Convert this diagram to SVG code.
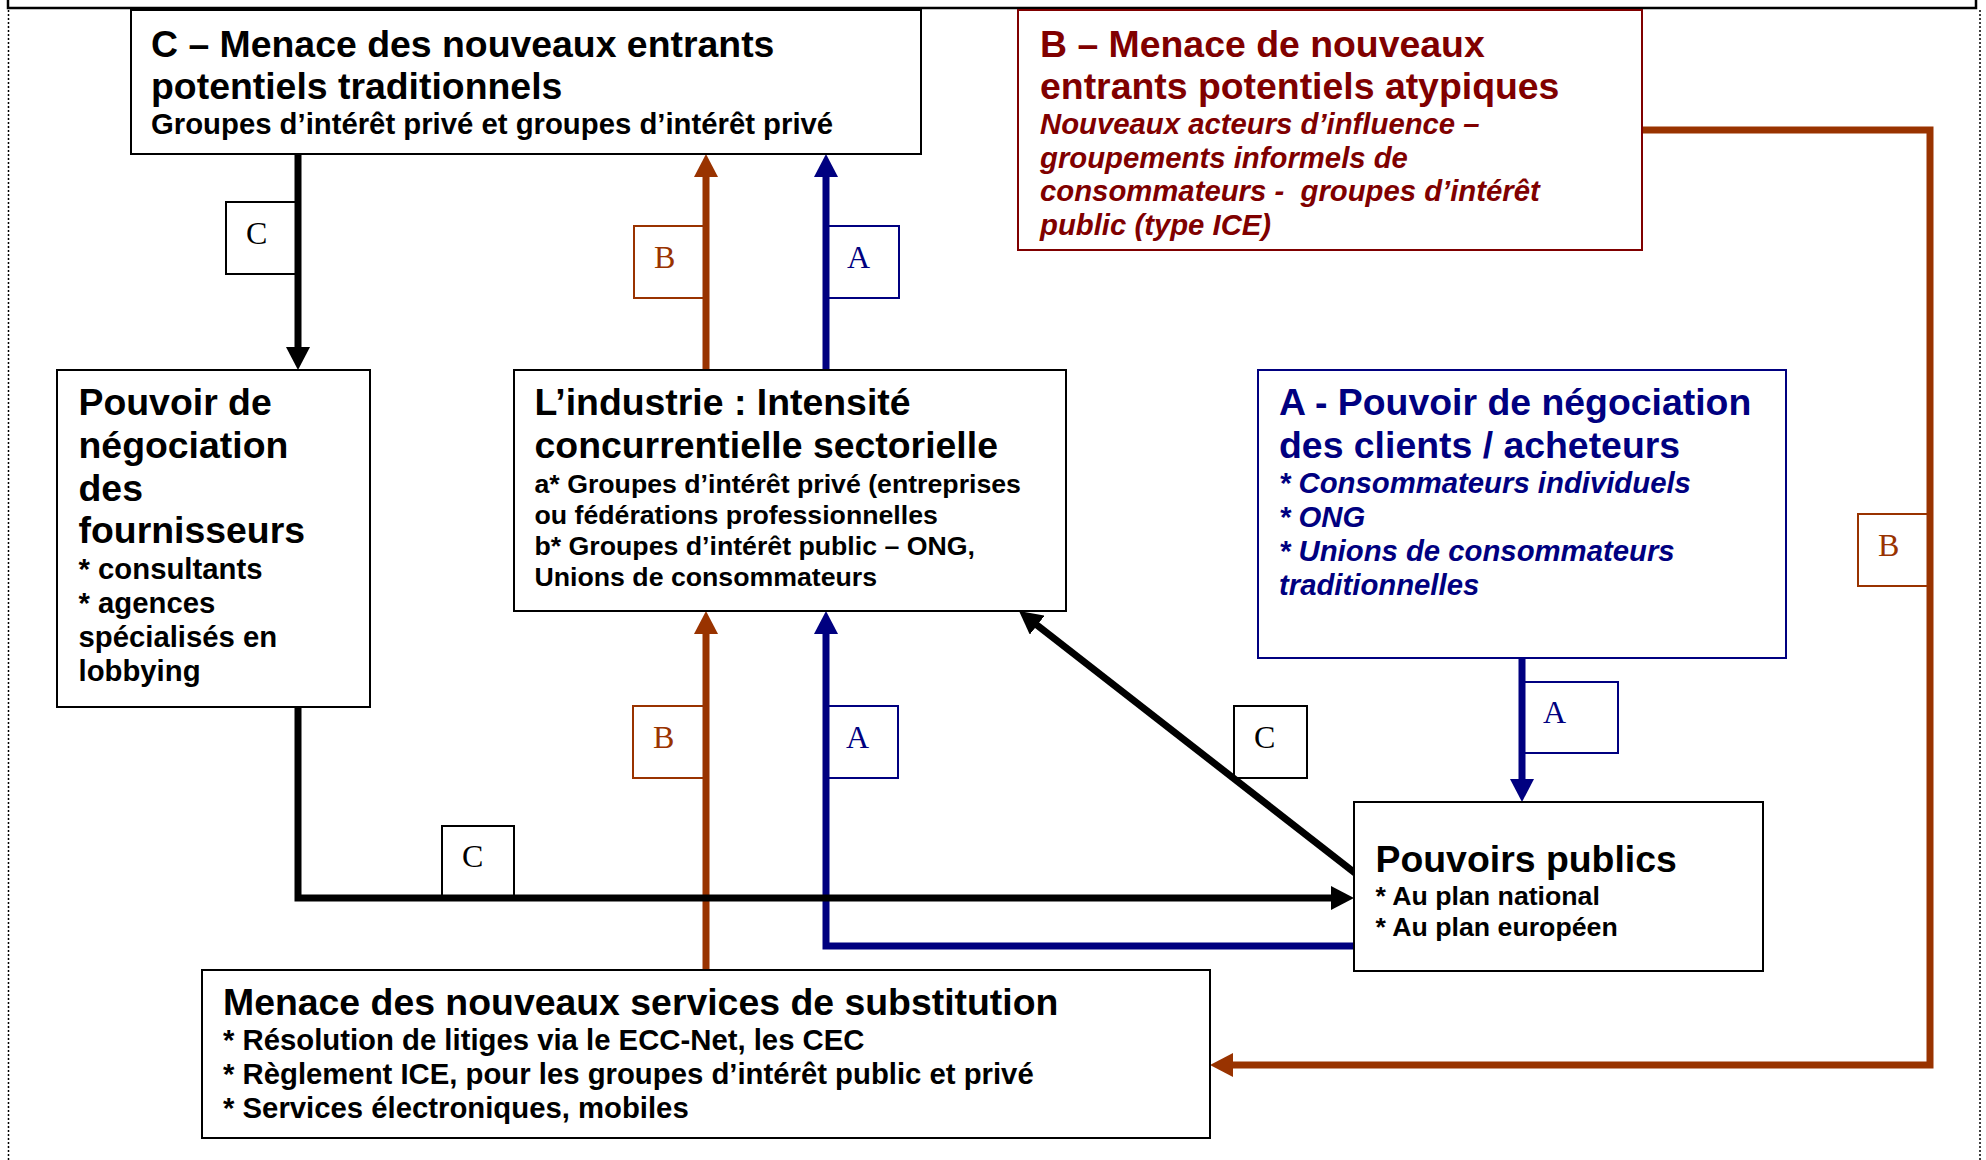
<svg xmlns="http://www.w3.org/2000/svg" width="1986" height="1160" viewBox="0 0 1986 1160">
<defs>
<style>
text{font-family:"Liberation Sans",Arial,Helvetica,sans-serif;font-weight:bold;white-space:pre}
.t{font-size:37.4px}
.s{font-size:29.3px}
.s2{font-size:26.7px}
.i{font-style:italic}
.box{fill:#fff;stroke:#000;stroke-width:2}
.lbl{fill:#fff;stroke-width:2}
.lt{font-family:"Liberation Serif","Times New Roman",serif;font-weight:normal;font-size:32px}
.k{stroke:#000}
.br{stroke:#993300}
.nv{stroke:#000080}
.con{fill:none;stroke-width:7;stroke-linejoin:miter}
</style>
<marker id="ak" markerUnits="userSpaceOnUse" markerWidth="24" markerHeight="24" viewBox="0 0 24 24" refX="11" refY="12" orient="auto"><path d="M0,0 L23,12 L0,24 z" fill="#000"/></marker>
<marker id="ab" markerUnits="userSpaceOnUse" markerWidth="24" markerHeight="24" viewBox="0 0 24 24" refX="11" refY="12" orient="auto"><path d="M0,0 L23,12 L0,24 z" fill="#993300"/></marker>
<marker id="an" markerUnits="userSpaceOnUse" markerWidth="24" markerHeight="24" viewBox="0 0 24 24" refX="11" refY="12" orient="auto"><path d="M0,0 L23,12 L0,24 z" fill="#000080"/></marker>
</defs>
<rect width="1986" height="1160" fill="#fff"/>
<g id="frame" fill="none">
<path d="M8,0 V8 H1976 V0" stroke="#000" stroke-width="2.5"/>
<path d="M8.5,10 V1160" stroke="#000" stroke-width="1.5" stroke-dasharray="2,2"/>
<path d="M1980,10 V1160" stroke="#000" stroke-width="1.5" stroke-dasharray="2,2"/>
</g>

<g id="labels">
<g id="lbl-c1"><rect class="lbl" x="226" y="202" width="70" height="72" stroke="#000"/><text class="lt" x="246" y="244" fill="#000">C</text></g>
<g id="lbl-b1"><rect class="lbl" x="634" y="226" width="71" height="72" stroke="#993300"/><text class="lt" x="654" y="268" fill="#993300">B</text></g>
<g id="lbl-a1"><rect class="lbl" x="827" y="226" width="72" height="72" stroke="#000080"/><text class="lt" x="847" y="268" fill="#000080">A</text></g>
<g id="lbl-b2"><rect class="lbl" x="633" y="706" width="72" height="72" stroke="#993300"/><text class="lt" x="653" y="748" fill="#993300">B</text></g>
<g id="lbl-a2"><rect class="lbl" x="827" y="706" width="71" height="72" stroke="#000080"/><text class="lt" x="846" y="748" fill="#000080">A</text></g>
<g id="lbl-c3"><rect class="lbl" x="1234" y="706" width="73" height="72" stroke="#000"/><text class="lt" x="1254" y="748" fill="#000">C</text></g>
<g id="lbl-a3"><rect class="lbl" x="1523" y="682" width="95" height="71" stroke="#000080"/><text class="lt" x="1543" y="723" fill="#000080">A</text></g>
<g id="lbl-b3"><rect class="lbl" x="1858" y="514" width="71" height="72" stroke="#993300"/><text class="lt" x="1878" y="556" fill="#993300">B</text></g>
<g id="lbl-c2"><rect class="lbl" x="442" y="826" width="72" height="71" stroke="#000"/><text class="lt" x="462" y="867" fill="#000">C</text></g>
</g>

<g id="connectors">
<path class="con k" d="M298,155 V358" marker-end="url(#ak)"/>
<path class="con br" d="M706,370 V166" marker-end="url(#ab)"/>
<path class="con nv" d="M826,370 V166" marker-end="url(#an)"/>
<path class="con br" d="M706,970 V623" marker-end="url(#ab)"/>
<path class="con nv" d="M1354,946 H826 V623" marker-end="url(#an)"/>
<path class="con k" d="M298,707 V898 H1342" marker-end="url(#ak)"/>
<path class="con k" d="M1355,873 L1028.5,618.4" stroke-width="7.5" marker-end="url(#ak)"/>
<path class="con nv" d="M1522,658 V790" marker-end="url(#an)"/>
<path class="con br" d="M1642,130 H1930 V1065 H1222" marker-end="url(#ab)"/>
</g>

<g id="node-c">
<rect class="box" x="131" y="10" width="790" height="144"/>
<text class="t" x="151" y="57">C – Menace des nouveaux entrants</text>
<text class="t" x="151" y="99">potentiels traditionnels</text>
<text class="s" x="151" y="134">Groupes d’intérêt privé et groupes d’intérêt privé</text>
</g>

<g id="node-b" fill="#800000">
<rect x="1018" y="10" width="624" height="240" fill="#fff" stroke="#800000" stroke-width="2"/>
<text class="t" x="1040" y="57">B – Menace de nouveaux</text>
<text class="t" x="1040" y="99">entrants potentiels atypiques</text>
<text class="s i" x="1040" y="134">Nouveaux acteurs d’influence –</text>
<text class="s i" x="1040" y="168">groupements informels de</text>
<text class="s i" x="1040" y="201">consommateurs -  groupes d’intérêt</text>
<text class="s i" x="1040" y="235">public (type ICE)</text>
</g>

<g id="node-fournisseurs">
<rect class="box" x="57" y="370" width="313" height="337"/>
<text class="t" x="78.5" y="415">Pouvoir de</text>
<text class="t" x="78.5" y="458">négociation</text>
<text class="t" x="78.5" y="501">des</text>
<text class="t" x="78.5" y="543">fournisseurs</text>
<text class="s" x="78.5" y="579">* consultants</text>
<text class="s" x="78.5" y="613">* agences</text>
<text class="s" x="78.5" y="647">spécialisés en</text>
<text class="s" x="78.5" y="681">lobbying</text>
</g>

<g id="node-industrie">
<rect class="box" x="514" y="370" width="552" height="241"/>
<text class="t" x="534.5" y="415">L’industrie : Intensité</text>
<text class="t" x="534.5" y="458">concurrentielle sectorielle</text>
<text class="s2" x="534.5" y="493">a* Groupes d’intérêt privé (entreprises</text>
<text class="s2" x="534.5" y="524">ou fédérations professionnelles</text>
<text class="s2" x="534.5" y="555">b* Groupes d’intérêt public – ONG,</text>
<text class="s2" x="534.5" y="586">Unions de consommateurs</text>
</g>

<g id="node-a" fill="#000080">
<rect x="1258" y="370" width="528" height="288" fill="#fff" stroke="#000080" stroke-width="2"/>
<text class="t" x="1279" y="415">A - Pouvoir de négociation</text>
<text class="t" x="1279" y="458">des clients / acheteurs</text>
<text class="s i" x="1279" y="493">* Consommateurs individuels</text>
<text class="s i" x="1279" y="527">* ONG</text>
<text class="s i" x="1279" y="561">* Unions de consommateurs</text>
<text class="s i" x="1279" y="595">traditionnelles</text>
</g>

<g id="node-pouvoirs-publics">
<rect class="box" x="1354" y="802" width="409" height="169"/>
<text class="t" x="1375.5" y="872">Pouvoirs publics</text>
<text class="s2" x="1375.5" y="905">* Au plan national</text>
<text class="s2" x="1375.5" y="936">* Au plan européen</text>
</g>

<g id="node-substitution">
<rect class="box" x="202" y="970" width="1008" height="168"/>
<text class="t" x="223" y="1015">Menace des nouveaux services de substitution</text>
<text class="s" x="223" y="1050">* Résolution de litiges via le ECC-Net, les CEC</text>
<text class="s" x="223" y="1084">* Règlement ICE, pour les groupes d’intérêt public et privé</text>
<text class="s" x="223" y="1118">* Services électroniques, mobiles</text>
</g>
</svg>
